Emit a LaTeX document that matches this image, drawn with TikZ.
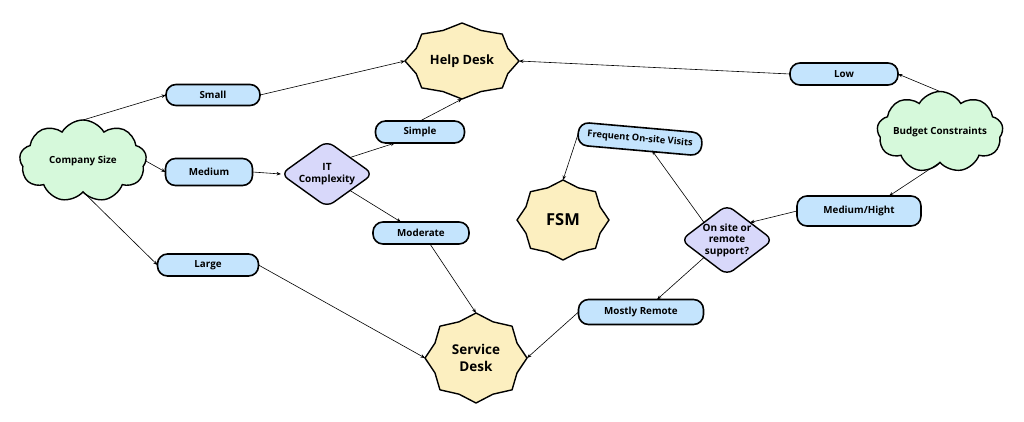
\documentclass[tikz,border=0pt]{standalone}
\usepackage{fontspec}
\setmainfont{Open Sans}
\usetikzlibrary{shapes.geometric,shapes.symbols,arrows.meta}
\definecolor{boxblue}{HTML}{C4E4FD}
\definecolor{cloudgreen}{HTML}{D6F9DB}
\definecolor{staryellow}{HTML}{FCEFC0}
\definecolor{diapurple}{HTML}{D8D8FA}
\newcommand\starburst[4]{%
  \draw[starsty] ({#1+#3},#2) \foreach \k in {1,...,15}{ -- ({#1+#3*(1-0.13*mod(\k,2))*cos(22.5*\k)},{#2+#4*(1-0.13*mod(\k,2))*sin(22.5*\k)})} -- cycle;}
\begin{document}
\begin{tikzpicture}[x=1pt,y=-1pt,
  starsty/.style={draw=black,line width=1.4pt,fill=staryellow,line join=round},
  starlabel/.style={ellipse,inner sep=0pt,outer sep=0pt,align=center,font=\bfseries},
  opt/.style={draw=black,line width=1.6pt,fill=boxblue,rounded corners=10pt,inner sep=0pt,outer sep=0pt,font=\bfseries\fontsize{9.8}{11}\selectfont},
  cloudsty/.style={cloud,cloud puffs=9,cloud puff arc=120,draw=black,line width=1.4pt,fill=cloudgreen,inner sep=0pt,outer sep=0pt,font=\bfseries\fontsize{9.8}{11}\selectfont},
  dia/.style={diamond,draw=black,line width=1.4pt,fill=diapurple,rounded corners=8pt,aspect=1.33,inner sep=-10pt,outer sep=0pt,align=center,font=\bfseries\fontsize{10}{11.5}\selectfont},
  arr/.style={line width=0.6pt,-{Stealth[length=4.5pt,width=3.5pt]}}]
\useasboundingbox (0,0) rectangle (1024,421);

% stars
\starburst{462}{61}{57}{38}
\starburst{476}{358}{51}{45}
\starburst{563}{220}{46}{40}
\node[starlabel,minimum width=114pt,minimum height=76pt,font=\bfseries\fontsize{12.8}{14}\selectfont] (hd) at (462,61) {Help Desk};
\node[starlabel,minimum width=102pt,minimum height=90pt,font=\bfseries\fontsize{13.5}{17}\selectfont] (sd) at (476,358) {Service\\Desk};
\node[starlabel,minimum width=92pt,minimum height=80pt,font=\bfseries\fontsize{16.5}{18}\selectfont] (fsm) at (563,220) {FSM};

% clouds
\node[cloudsty,minimum width=127pt,minimum height=82pt] (cs) at (83,161) {\makebox[0pt]{Company Size}};
\node[cloudsty,minimum width=126pt,minimum height=81pt] (bc) at (940,132) {\makebox[0pt]{Budget Constraints}};

% option boxes
\node[opt,minimum width=94pt,minimum height=21pt] (small) at (213,95) {Small};
\node[opt,minimum width=87pt,minimum height=27pt] (medium) at (209,172) {Medium};
\node[opt,minimum width=101pt,minimum height=22pt] (large) at (208,265) {Large};
\node[opt,minimum width=89pt,minimum height=22pt] (simple) at (420,132) {Simple};
\node[opt,minimum width=96pt,minimum height=22pt] (moderate) at (421,233) {Moderate};
\node[opt,minimum width=108pt,minimum height=22pt] (low) at (844,74) {Low};
\node[opt,minimum width=124pt,minimum height=30pt] (medhi) at (859,211) {Medium/Hight};
\node[opt,minimum width=125pt,minimum height=25pt] (mostly) at (641,312) {Mostly Remote};
\node[opt,minimum width=124pt,minimum height=23pt,rotate=-5,font=\bfseries\fontsize{9.3}{11}\selectfont] (freq) at (640,139) {Frequent On-site Visits};

% diamonds
\node[dia,minimum width=92pt,minimum height=66pt] (itc) at (327,174) {IT\\Complexity};
\node[dia,minimum width=92pt,minimum height=70pt] (osr) at (727,240) {On site or\\remote\\support?};

% connectors
\draw[arr] (cs.north) -- (small.west);
\draw[arr] (small.east) -- (hd.west);
\draw[arr] (cs.east) -- (medium.west);
\draw[arr] (medium.east) -- (itc.west);
\draw[arr] (itc.north east) -- ([xshift=-25pt]simple.south);
\draw[arr] (simple.north) -- (hd.south);
\draw[arr] (itc.south east) -- ([xshift=-20pt]moderate.north);
\draw[arr] ([xshift=9pt]moderate.south) -- (sd.north);
\draw[arr] (cs.south) -- (large.west);
\draw[arr] (large.east) -- (sd.west);
\draw[arr] (bc.north) -- (low.east);
\draw[arr] (low.west) -- (hd.east);
\draw[arr] (bc.south) -- ([xshift=30pt]medhi.north);
\draw[arr] (medhi.west) -- (osr.north east);
\draw[arr] (osr.north west) -- ([xshift=13pt]freq.south);
\draw[arr] (freq.west) -- (fsm.north);
\draw[arr] (osr.south west) -- ([xshift=16pt]mostly.north);
\draw[arr] (mostly.west) -- (sd.east);
\end{tikzpicture}
\end{document}
